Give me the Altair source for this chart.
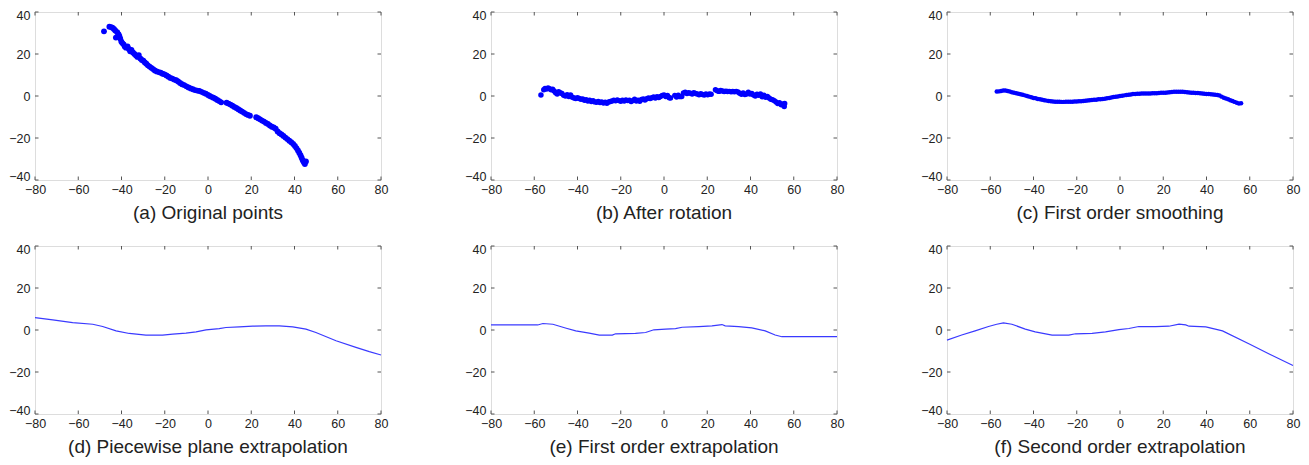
import altair as alt
import pandas as pd

FONT = "Liberation Sans"
BLUE = "#0000ff"
LINE_BLUE = "#3a3aff"
FRAME = "#555555"
TEXT = "#222222"

W, H = 346, 168
TL = 3.5

tick_x = [-80, -60, -40, -20, 0, 20, 40, 60, 80]
tick_y = [-40, -20, 0, 20, 40]

titles = [
    "(a) Original points",
    "(b) After rotation",
    "(c) First order smoothing",
    "(d) Piecewise plane extrapolation",
    "(e) First order extrapolation",
    "(f) Second order extrapolation",
]

# (a) original points
xa = [-48.1, -45.6, -44.9, -44.2, -43.5, -42.9, -42.6, -42.0, -41.4, -41.0,
      -40.6, -40.1, -39.6, -39.0, -38.5, -37.9, -37.2, -36.6, -36.0, -35.4,
      -34.7, -34.0, -33.3, -32.6, -32.0, -31.3, -30.6, -29.9, -29.2, -28.5,
      -27.8, -27.0, -26.2, -25.4, -24.6, -23.7, -22.8, -21.9, -21.0, -20.1,
      -19.2, -18.3, -17.4, -16.5, -15.6, -14.7, -13.8, -12.9, -12.0, -11.0,
      -10.0, -9.0, -8.0, -7.0, -6.0, -5.0, -4.0, -3.0, -2.0, -1.0,
      0.0, 0.8, 1.6, 2.5, 3.4, 4.3, 5.2, 6.1, 8.6, 9.5,
      10.4, 11.3, 12.2, 13.1, 14.0, 14.9, 15.8, 16.7, 17.6, 18.5,
      19.4, 22.3, 23.2, 24.1, 25.0, 25.9, 26.8, 27.7, 28.6, 29.5,
      30.4, 31.3, 32.2, 33.1, 34.0, 34.9, 35.8, 36.7, 37.6, 38.5,
      39.4, 40.2, 40.9, 41.6, 42.2, 42.8, 43.3, 43.8, 44.3, 44.8,
      45.3]
ya = [30.8, 33.0, 32.8, 32.5, 31.9, 31.2, 27.8, 30.4, 29.5, 28.6,
      27.4, 26.0, 25.2, 24.6, 23.6, 23.0, 23.6, 22.4, 21.3, 21.9,
      20.7, 20.0, 19.3, 18.6, 19.5, 17.9, 17.2, 16.8, 16.0, 15.4,
      14.6, 14.0, 13.4, 12.8, 12.2, 11.7, 11.4, 11.1, 10.6, 10.3,
      9.8, 9.2, 8.6, 8.3, 7.8, 7.5, 6.9, 6.2, 5.6, 5.2,
      4.6, 4.1, 3.6, 3.2, 2.8, 2.6, 2.4, 2.0, 1.5, 1.1,
      0.5, 0.0, -0.4, -0.8, -1.3, -1.9, -2.4, -3.0, -3.2, -3.6,
      -4.1, -4.6, -5.2, -5.7, -6.3, -6.9, -7.4, -8.0, -8.6, -9.0,
      -9.4, -10.1, -10.6, -11.1, -11.7, -12.2, -12.8, -13.3, -14.0, -14.6,
      -15.0, -15.6, -16.9, -17.7, -18.3, -19.0, -19.8, -20.5, -21.3, -22.0,
      -22.8, -23.8, -24.8, -25.9, -27.0, -28.2, -29.4, -30.6, -31.6, -32.4,
      -31.2]

# (b) after rotation
xb = [-56.9, -55.6, -55.0, -54.3, -53.6, -52.9, -52.2, -51.5, -50.8, -50.1,
      -49.4, -48.7, -48.0, -47.2, -46.4, -45.6, -44.8, -44.0, -43.2, -42.4,
      -41.6, -40.8, -40.0, -39.2, -38.4, -37.6, -36.8, -36.0, -35.2, -34.4,
      -33.6, -32.8, -32.0, -31.2, -30.4, -29.6, -28.8, -28.0, -27.2, -26.4,
      -25.6, -24.8, -24.0, -23.2, -22.4, -21.6, -20.8, -20.0, -19.2, -18.4,
      -17.6, -16.8, -16.0, -15.2, -14.4, -13.6, -12.8, -12.0, -11.2, -10.4,
      -9.6, -8.8, -8.0, -7.2, -6.4, -5.6, -4.8, -4.0, -3.2, -2.4,
      -1.6, -0.8, 0.0, 0.8, 1.6, 2.4, 3.0, 5.0, 5.8, 6.6,
      7.4, 8.2, 9.0, 9.8, 10.6, 11.4, 12.2, 13.0, 13.8, 14.6,
      15.4, 16.2, 17.0, 17.8, 18.6, 19.4, 20.2, 21.0, 21.8, 23.8,
      24.6, 25.4, 26.2, 27.0, 27.8, 28.6, 29.4, 30.2, 31.0, 31.8,
      32.6, 33.4, 34.2, 35.0, 35.8, 36.6, 37.4, 38.2, 39.0, 39.8,
      40.6, 41.4, 42.2, 43.0, 43.8, 44.6, 45.4, 46.2, 47.0, 47.8,
      48.6, 49.4, 50.2, 51.0, 51.8, 52.6, 53.4, 54.2, 55.0, 55.6,
      55.8]
yb = [0.5, 3.0, 3.6, 3.3, 3.8, 3.4, 3.0, 3.2, 2.4, 1.5,
      1.0, 2.0, 1.5, 1.2, 0.3, 0.0, 0.6, -0.2, 0.5, -0.6,
      -1.0, -1.2, -0.8, -1.2, -1.6, -1.4, -2.0, -1.8, -2.4, -2.0,
      -2.6, -2.2, -2.8, -3.0, -2.6, -3.1, -2.8, -3.3, -3.0, -3.4,
      -2.9, -2.6, -2.4, -2.0, -2.3, -1.9, -2.2, -2.5, -2.0, -2.4,
      -1.9, -2.2, -2.0, -2.6, -2.2, -1.6, -2.4, -2.0, -2.5, -1.7,
      -1.4, -1.9, -1.3, -1.0, -1.2, -0.8, -0.5, -0.9, -0.4, -0.7,
      -0.2, 0.3, 0.5, -0.2, 0.2, -0.8, -1.0, 0.3, -0.5, 0.4,
      -0.3, -0.2, 1.4, 1.8, 1.2, 1.6, 1.3, 1.0, 1.6, 1.2,
      1.0, 0.6, 1.1, 0.7, 0.5, 0.9, 0.6, 1.0, 0.8, 3.0,
      2.5, 2.2, 2.6, 2.4, 2.1, 2.3, 2.1, 2.2, 2.0, 2.1,
      2.0, 2.2, 1.9, 1.3, 0.8, 1.4, 0.7, 1.0, 1.8, 0.9,
      1.2, 0.5, 0.0, 0.8, 0.3, 0.9, -0.4, 0.4, -0.6, -0.2,
      -0.9, -1.5, -1.8, -2.2, -2.8, -3.6, -3.2, -4.2, -3.8, -5.0,
      -3.6]

# (c) first order smoothing
xc = [-57, -56, -55, -54, -53, -52, -51, -50, -49, -48,
      -47, -46, -45, -44, -43, -42, -41, -40, -39, -38,
      -37, -36, -35, -34, -33, -32, -31, -30, -29, -28,
      -27, -26, -25, -24, -23, -22, -21, -20, -19, -18,
      -17, -16, -15, -14, -13, -12, -11, -10, -9, -8,
      -7, -6, -5, -4, -3, -2, -1, 0, 1, 2,
      3, 4, 5, 6, 7, 8, 9, 10, 11, 12,
      13, 14, 15, 16, 17, 18, 19, 20, 21, 22,
      23, 24, 25, 26, 27, 28, 29, 30, 31, 32,
      33, 34, 35, 36, 37, 38, 39, 40, 41, 42,
      43, 44, 45, 46, 47, 48, 49, 50, 51, 52,
      53, 54, 55, 56]
yc = [2.1, 2.2, 2.4, 2.6, 2.6, 2.4, 2.1, 1.8, 1.6, 1.3,
      1.1, 0.8, 0.6, 0.3, 0.0, -0.3, -0.6, -0.9, -1.1, -1.4,
      -1.6, -1.8, -2.0, -2.2, -2.4, -2.5, -2.6, -2.7, -2.7, -2.7,
      -2.8, -2.8, -2.7, -2.7, -2.7, -2.7, -2.6, -2.6, -2.5, -2.5,
      -2.4, -2.3, -2.1, -2.0, -1.9, -1.8, -1.8, -1.6, -1.5, -1.4,
      -1.3, -1.1, -0.9, -0.7, -0.5, -0.4, -0.2, 0.0, 0.1, 0.3,
      0.5, 0.6, 0.7, 0.9, 1.0, 1.1, 1.1, 1.2, 1.2, 1.2,
      1.2, 1.2, 1.3, 1.3, 1.3, 1.4, 1.5, 1.5, 1.6, 1.7,
      1.8, 1.9, 2.0, 2.0, 2.0, 2.0, 2.0, 1.9, 1.8, 1.7,
      1.6, 1.5, 1.4, 1.4, 1.3, 1.2, 1.1, 1.0, 0.9, 0.8,
      0.7, 0.6, 0.5, 0.2, -0.3, -0.8, -1.2, -1.6, -2.0, -2.4,
      -2.8, -3.2, -3.6, -3.4]

# (d) piecewise plane extrapolation
xd = [-80, -71.8, -62.6, -53.3, -48.7, -42.5, -36.4, -28.7, -21.0, -16.3,
      -10.2, -5.5, -0.9, 5.2, 8.3, 14.5, 20.7, 26.8, 33.0, 39.2,
      45.3, 49.9, 59.2, 68.4, 74.6, 80]
yd = [5.9, 4.8, 3.5, 2.75, 1.65, -0.4, -1.65, -2.45, -2.45, -2.0,
      -1.5, -0.9, 0.1, 0.7, 1.2, 1.5, 1.8, 2.0, 2.0, 1.5,
      0.4, -1.2, -5.1, -8.25, -10.3, -11.9]

# (e) first order extrapolation
xe = [-80, -58.4, -56.0, -51.4, -45.2, -40.8, -34.6, -29.9, -23.9, -22.4,
      -13.2, -8.5, -4.7, 0.7, 5.3, 8.4, 16.1, 22.2, 26.8, 28.3,
      34.5, 40.6, 46.8, 51.4, 54.5, 80]
ye = [2.4, 2.4, 3.1, 2.75, 0.85, -0.4, -1.5, -2.4, -2.4, -1.8,
      -1.65, -1.2, 0.1, 0.4, 0.7, 1.3, 1.65, 2.0, 2.6, 2.0,
      1.65, 1.0, -0.4, -2.4, -3.2, -3.2]

# (f) second order extrapolation
xf = [-80, -73.2, -67.0, -60.8, -57.0, -53.9, -50.0, -43.8, -39.2, -31.4,
      -23.7, -20.6, -12.9, -6.7, -0.5, 4.1, 8.7, 16.5, 22.6, 27.3,
      30.4, 31.9, 39.7, 47.4, 59.8, 69.0, 80]
yf = [-4.8, -2.4, -0.4, 1.65, 2.75, 3.4, 2.75, 0.4, -0.9, -2.4,
      -2.4, -1.8, -1.65, -0.9, 0.2, 0.7, 1.65, 1.65, 1.8, 2.75,
      2.4, 1.8, 1.5, -0.4, -6.7, -11.4, -16.9]

xscale = alt.Scale(domain=[-80, 80], nice=False, zero=False)
yscale = alt.Scale(domain=[-40, 40], nice=False, zero=False)
axis_style = dict(grid=False, domain=False, ticks=False, tickSize=0,
                  labelFont=FONT, labelFontSize=12.5, labelColor=TEXT, title=None)
xaxis = alt.Axis(values=tick_x, labelPadding=3, labelFlush=False, **axis_style)
yaxis = alt.Axis(values=tick_y, labelPadding=5, labelFlush=True, labelFlushOffset=3,
                 **axis_style)


def X(field):
    return alt.X(field, type="quantitative", scale=xscale, axis=xaxis)


def Y(field):
    return alt.Y(field, type="quantitative", scale=yscale, axis=yaxis)


def tick_layers():
    tx = alt.Chart(pd.DataFrame({"tx": tick_x}))
    ty = alt.Chart(pd.DataFrame({"ty": tick_y}))
    rule = dict(color=FRAME, strokeWidth=1)
    return [
        tx.mark_rule(**rule).encode(x=X("tx"), y=alt.value(H), y2=alt.value(H - TL)),
        tx.mark_rule(**rule).encode(x=X("tx"), y=alt.value(0), y2=alt.value(TL)),
        ty.mark_rule(**rule).encode(y=Y("ty"), x=alt.value(0), x2=alt.value(TL)),
        ty.mark_rule(**rule).encode(y=Y("ty"), x=alt.value(W), x2=alt.value(W - TL)),
    ]


def panel(xs, ys, title, kind, size=22):
    df = pd.DataFrame({"x": xs, "y": ys})
    base = alt.Chart(df)
    if kind == "points":
        m = base.mark_circle(size=size, color=BLUE, opacity=1)
    else:
        m = base.mark_line(color=LINE_BLUE, strokeWidth=1.2)
    data_layer = m.encode(x=X("x"), y=Y("y"))
    return alt.layer(*tick_layers(), data_layer).properties(
        width=W, height=H,
        title=alt.TitleParams(title, orient="bottom", anchor="middle", font=FONT,
                              fontSize=19, fontWeight="normal", color=TEXT, offset=8),
    )


panels = [
    panel(xa, ya, titles[0], "points", 34),
    panel(xb, yb, titles[1], "points", 30),
    panel(xc, yc, titles[2], "points", 20),
    panel(xd, yd, titles[3], "line"),
    panel(xe, ye, titles[4], "line"),
    panel(xf, yf, titles[5], "line"),
]

chart = alt.concat(
    *panels, columns=3, spacing={"row": 66, "column": 110}, bounds="flush"
).properties(padding=0).configure_view(stroke=FRAME, strokeWidth=1).configure(background="white")

chart.save("out.html", embed_options={"renderer": "svg", "actions": False})
